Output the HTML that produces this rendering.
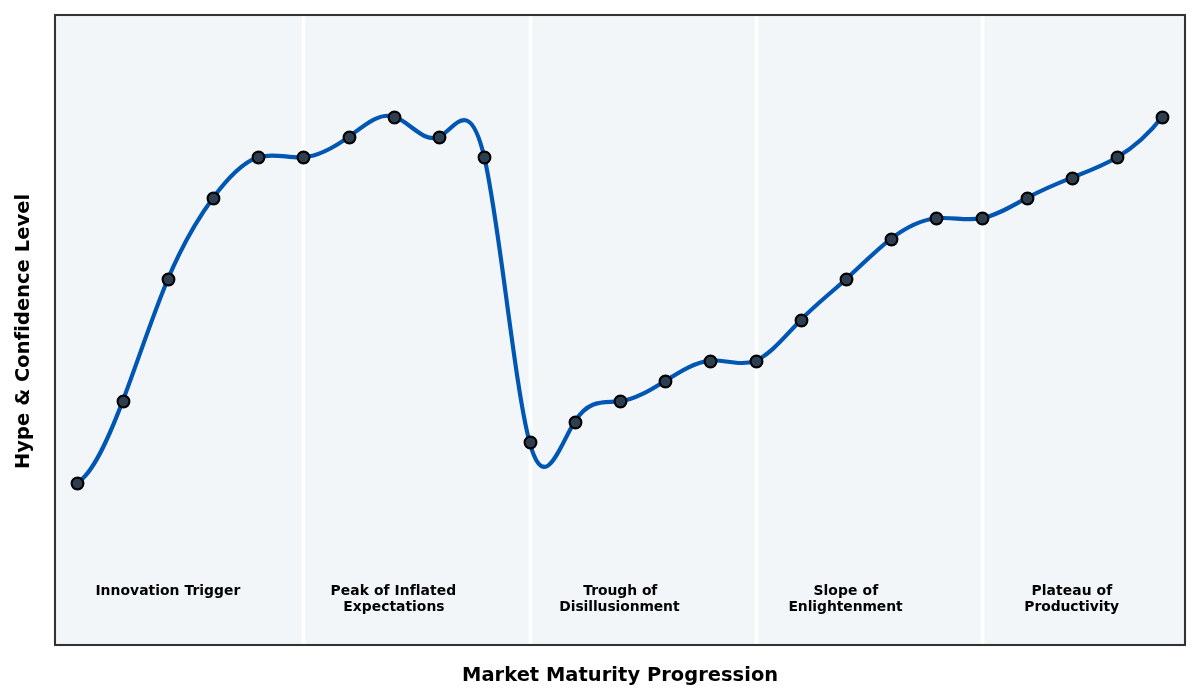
<!DOCTYPE html>
<html lang="en">
<head>
<meta charset="utf-8">
<title>Hype Cycle – Market Maturity Progression</title>
<style>
html,body{margin:0;padding:0;background:#fff;}
body{width:1200px;height:700px;overflow:hidden;}
svg{display:block;}
text{font-family:"DejaVu Sans","Liberation Sans",sans-serif;font-weight:bold;fill:#000;text-anchor:middle;}
.band text{font-size:13.89px;}
.axis text{font-size:19.44px;}
</style>
</head>
<body>
<svg width="1200" height="700" viewBox="0 0 1200 700">
<rect x="0" y="0" width="1200" height="700" fill="#ffffff"/>
<rect x="55" y="15" width="1130" height="630" fill="#f3f6f9"/>
<g fill="#ffffff">
<rect x="301.7" y="15" width="3.6" height="630"/>
<rect x="528.7" y="15" width="3.6" height="630"/>
<rect x="754.7" y="15" width="3.6" height="630"/>
<rect x="980.7" y="15" width="3.6" height="630"/>
</g>
<path d="M77.41 482.62C92.48 473.91 107.55 440.98 122.62 401.28C137.69 361.58 152.76 315.09 167.83 279.27C182.90 243.45 197.97 218.28 213.04 197.93C228.11 177.58 243.18 162.06 258.25 157.26C273.32 152.46 288.40 158.39 303.47 157.26C318.54 156.13 333.61 147.93 348.68 136.92C363.75 125.92 378.82 112.10 393.89 116.59C408.96 121.08 424.03 143.88 439.10 136.92C454.17 129.97 469.24 93.27 484.31 157.26C499.38 221.25 514.46 385.93 529.53 441.95C544.60 497.97 559.67 445.31 574.74 421.61C589.81 397.92 604.88 403.18 619.95 401.28C635.02 399.38 650.09 390.33 665.16 380.94C680.23 371.56 695.30 361.85 710.37 360.61C725.44 359.37 740.52 366.61 755.59 360.61C770.66 354.61 785.73 335.37 800.80 319.94C815.87 304.51 830.94 292.88 846.01 279.27C861.08 265.66 876.15 250.06 891.22 238.60C906.29 227.14 921.36 219.81 936.43 218.26C951.50 216.72 966.58 220.96 981.65 218.26C996.72 215.57 1011.79 205.94 1026.86 197.93C1041.93 189.92 1057.00 183.54 1072.07 177.59C1087.14 171.65 1102.21 166.15 1117.28 157.26C1132.35 148.37 1147.42 136.09 1162.49 116.59" fill="none" stroke="#0056b3" stroke-width="4.17" stroke-linecap="square" stroke-linejoin="round"/>
<g fill="#2c3e50" stroke="#000000" stroke-width="2.08">
<circle cx="77.5" cy="483.5" r="5.9"/>
<circle cx="123.5" cy="401.5" r="5.9"/>
<circle cx="168.5" cy="279.5" r="5.9"/>
<circle cx="213.5" cy="198.5" r="5.9"/>
<circle cx="258.5" cy="157.5" r="5.9"/>
<circle cx="303.5" cy="157.5" r="5.9"/>
<circle cx="349.5" cy="137.5" r="5.9"/>
<circle cx="394.5" cy="117.5" r="5.9"/>
<circle cx="439.5" cy="137.5" r="5.9"/>
<circle cx="484.5" cy="157.5" r="5.9"/>
<circle cx="530.5" cy="442.5" r="5.9"/>
<circle cx="575.5" cy="422.5" r="5.9"/>
<circle cx="620.5" cy="401.5" r="5.9"/>
<circle cx="665.5" cy="381.5" r="5.9"/>
<circle cx="710.5" cy="361.5" r="5.9"/>
<circle cx="756.5" cy="361.5" r="5.9"/>
<circle cx="801.5" cy="320.5" r="5.9"/>
<circle cx="846.5" cy="279.5" r="5.9"/>
<circle cx="891.5" cy="239.5" r="5.9"/>
<circle cx="936.5" cy="218.5" r="5.9"/>
<circle cx="982.5" cy="218.5" r="5.9"/>
<circle cx="1027.5" cy="198.5" r="5.9"/>
<circle cx="1072.5" cy="178.5" r="5.9"/>
<circle cx="1117.5" cy="157.5" r="5.9"/>
<circle cx="1162.5" cy="117.5" r="5.9"/>
</g>
<g class="band">
<text x="167.90" y="594.80" style="letter-spacing:0.048px">Innovation Trigger</text>
<text x="393.41" y="594.80" style="letter-spacing:0.063px">Peak of Inflated</text>
<text x="393.96" y="610.80" style="letter-spacing:0.021px">Expectations</text>
<text x="620.35" y="594.80" style="letter-spacing:-0.036px">Trough of</text>
<text x="619.40" y="610.80" style="letter-spacing:-0.092px">Disillusionment</text>
<text x="845.88" y="594.80" style="letter-spacing:0.115px">Slope of</text>
<text x="845.50" y="610.80" style="letter-spacing:-0.059px">Enlightenment</text>
<text x="1071.89" y="594.80" style="letter-spacing:0.096px">Plateau of</text>
<text x="1071.68" y="610.80" style="letter-spacing:-0.065px">Productivity</text>
</g>
<rect x="55" y="15" width="1130" height="630" fill="none" stroke="#333333" stroke-width="2.08"/>
<g class="axis">
<text x="620.11" y="680.70" style="letter-spacing:0.038px">Market Maturity Progression</text>
<text transform="translate(29.30 331.42) rotate(-90)" style="letter-spacing:0.065px">Hype &amp; Confidence Level</text>
</g>
</svg>
</body>
</html>
